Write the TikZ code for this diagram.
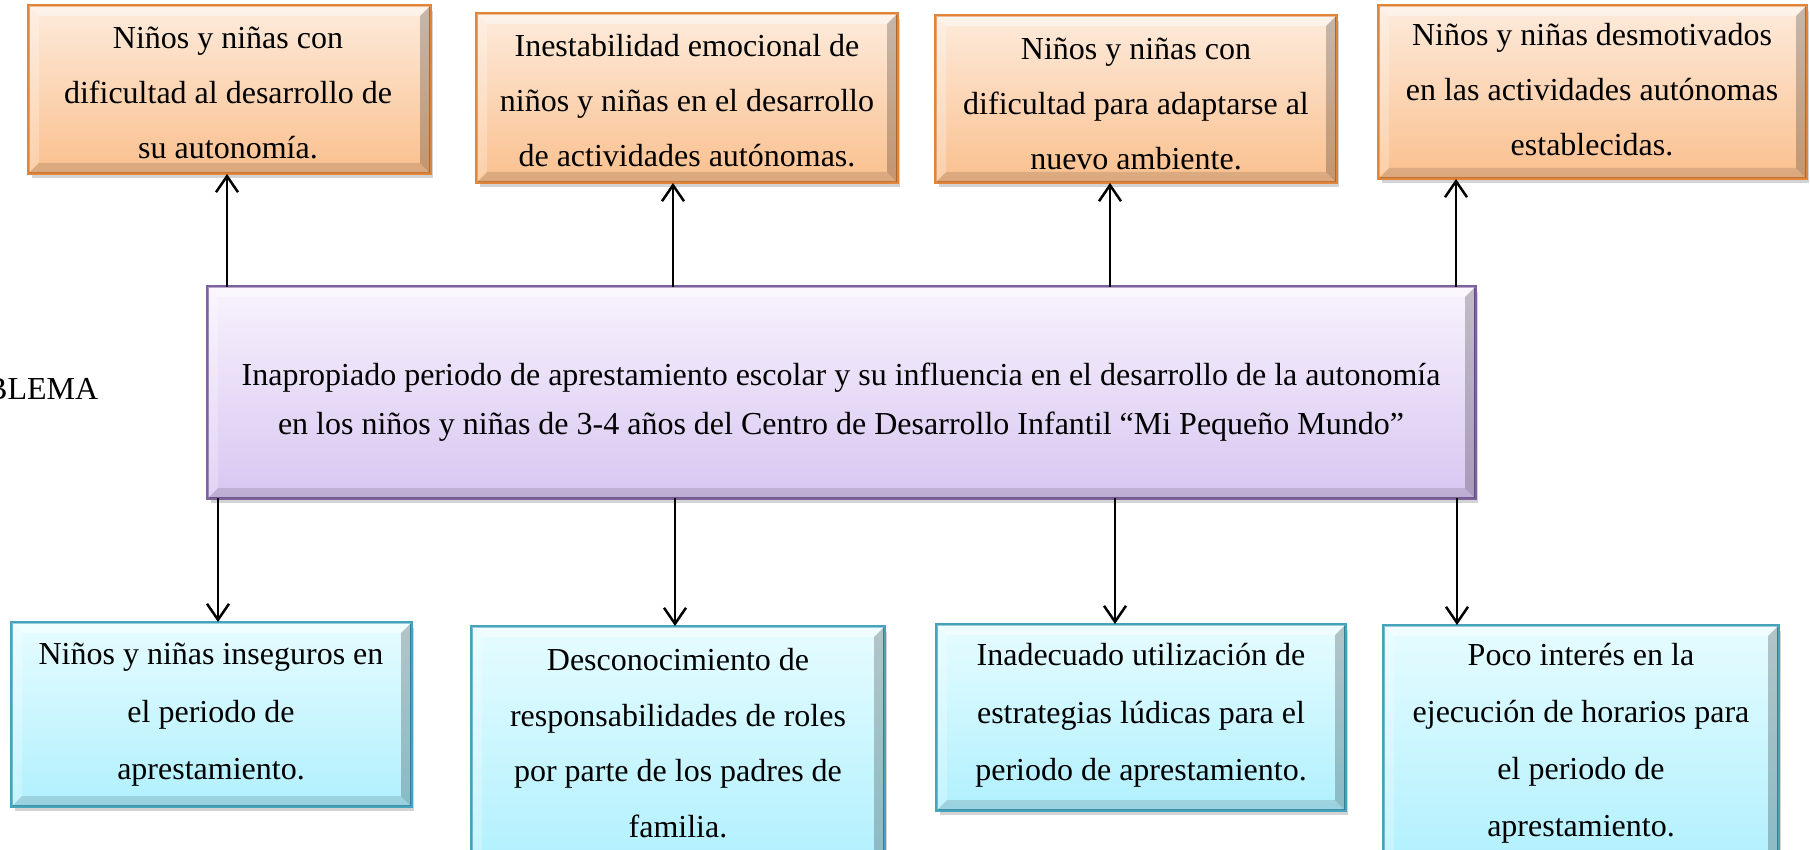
\documentclass[tikz,border=0pt]{standalone}
\usepackage{fontspec}
\setmainfont{Liberation Serif}
\usetikzlibrary{arrows.meta,shadows}
\definecolor{oTop}{HTML}{FDEBDC}
\definecolor{oBot}{HTML}{FAC08E}
\definecolor{oLine}{HTML}{E0853A}
\definecolor{pTop}{HTML}{F8F2FD}
\definecolor{pBot}{HTML}{D8C6F1}
\definecolor{pLine}{HTML}{7D629E}
\definecolor{bTop}{HTML}{E6FCFF}
\definecolor{bBot}{HTML}{B0F0FE}
\definecolor{bLine}{HTML}{45A3BC}
\newcommand{\mybevel}[2]{%
  \fill[white,opacity=0.45] (#1.north west) -- (#1.north east) -- ([xshift=-11pt,yshift=-11pt]#1.north east) -- ([xshift=11pt,yshift=-11pt]#1.north west) -- cycle;
  \fill[white,opacity=0.25] (#1.north west) -- ([xshift=11pt,yshift=-11pt]#1.north west) -- ([xshift=11pt,yshift=11pt]#1.south west) -- (#1.south west) -- cycle;
  \fill[black,opacity=0.22] (#1.north east) -- ([xshift=-11pt,yshift=-11pt]#1.north east) -- ([xshift=-11pt,yshift=11pt]#1.south east) -- (#1.south east) -- cycle;
  \fill[black,opacity=0.12] (#1.south west) -- ([xshift=11pt,yshift=11pt]#1.south west) -- ([xshift=-11pt,yshift=11pt]#1.south east) -- (#1.south east) -- cycle;
  \draw[#2,line width=2pt] (#1.north west) rectangle (#1.south east);}
\tikzset{
  basebox/.style={rectangle, line width=2pt, align=center, inner sep=0pt,
    drop shadow={opacity=0.35, shadow xshift=3pt, shadow yshift=-5pt}},
  obox/.style={basebox, draw=oLine, top color=oTop, bottom color=oBot},
  pbox/.style={basebox, draw=pLine, top color=pTop, bottom color=pBot},
  bbox/.style={basebox, draw=bLine, top color=bTop, bottom color=bBot},
  txt/.style={align=center, inner sep=0pt, font=\fontsize{32}{#1}\selectfont},
  arr/.style={line width=2.5pt, -{Straight Barb[length=16pt,width=22pt,line width=2.5pt]}},
  plain/.style={font=\fontsize{32}{40}\selectfont, inner sep=0pt}
}
\begin{document}
\begin{tikzpicture}[x=1pt,y=-1pt]
\useasboundingbox (0,0) rectangle (1810,850);
\clip (0,0) rectangle (1810,850);
% top boxes
\node[obox, minimum width=401, minimum height=167] (t1) at (229.5,89.5) {};
\node[obox, minimum width=420, minimum height=168] (t2) at (687,98) {};
\node[obox, minimum width=400, minimum height=166] (t3) at (1136,99) {};
\node[obox, minimum width=427, minimum height=172] (t4) at (1592.5,92) {};
% center
\node[pbox, minimum width=1267, minimum height=211] (c) at (841.5,392.5) {};
% bottom boxes
\node[bbox, minimum width=399, minimum height=183] (b1) at (211.5,714.5) {};
\node[bbox, minimum width=412, minimum height=240] (b2) at (678,747) {};
\node[bbox, minimum width=408, minimum height=185] (b3) at (1141,717.5) {};
\node[bbox, minimum width=394, minimum height=240] (b4) at (1581,746) {};
\mybevel{t1}{oLine}\mybevel{t2}{oLine}\mybevel{t3}{oLine}\mybevel{t4}{oLine}
\mybevel{c}{pLine}
\mybevel{b1}{bLine}\mybevel{b2}{bLine}\mybevel{b3}{bLine}\mybevel{b4}{bLine}
% texts
\node[txt=55] (t1x) at (228,93) {Niños y niñas con\\dificultad al desarrollo de\\su autonomía.};
\node[txt=55] (t2x) at (687,101) {Inestabilidad emocional de\\niños y niñas en el desarrollo\\de actividades autónomas.};
\node[txt=55] (t3x) at (1136,104) {Niños y niñas con\\dificultad para adaptarse al\\nuevo ambiente.};
\node[txt=55] (t4x) at (1592,90) {Niños y niñas desmotivados\\en las actividades autónomas\\establecidas.};
\node[txt=49] (cx) at (841,402.5) {Inapropiado periodo de aprestamiento escolar y su influencia en el desarrollo de la autonomía\\en los niños y niñas de 3-4 años del Centro de Desarrollo Infantil “Mi Pequeño Mundo”};
\node[txt=57.5] (b1x) at (211,715) {Niños y niñas inseguros en\\el periodo de\\apresta\-miento.};
\node[txt=55.5] (b2x) at (678,743) {Desconocimiento de\\responsabilidades de roles\\por parte de los padres de\\familia.};
\node[txt=57.5] (b3x) at (1141,715.5) {Inadecuado utilización de\\estrategias lúdicas para el\\periodo de apresta\-miento.};
\node[txt=57] (b4x) at (1581,743) {Poco interés en la\\ejecución de horarios para\\el periodo de\\apresta\-miento.};
\node[plain, anchor=west] (lab) at (-14,389) {BLEMA};
% arrows up
\coordinate (u1) at (227,287);
\coordinate (u2) at (673,287);
\coordinate (u3) at (1110,287);
\coordinate (u4) at (1456,287);
\draw[arr] (u1) -- (u1 |- t1.south);
\draw[arr] (u2) -- (u2 |- t2.south);
\draw[arr] (u3) -- (u3 |- t3.south);
\draw[arr] (u4) -- (u4 |- t4.south);
% arrows down
\coordinate (d1) at (218,498);
\coordinate (d2) at (675,498);
\coordinate (d3) at (1115,498);
\coordinate (d4) at (1457,498);
\draw[arr] (d1) -- (d1 |- b1.north);
\draw[arr] (d2) -- (d2 |- b2.north);
\draw[arr] (d3) -- (d3 |- b3.north);
\draw[arr] (d4) -- (d4 |- b4.north);
\end{tikzpicture}
\end{document}
